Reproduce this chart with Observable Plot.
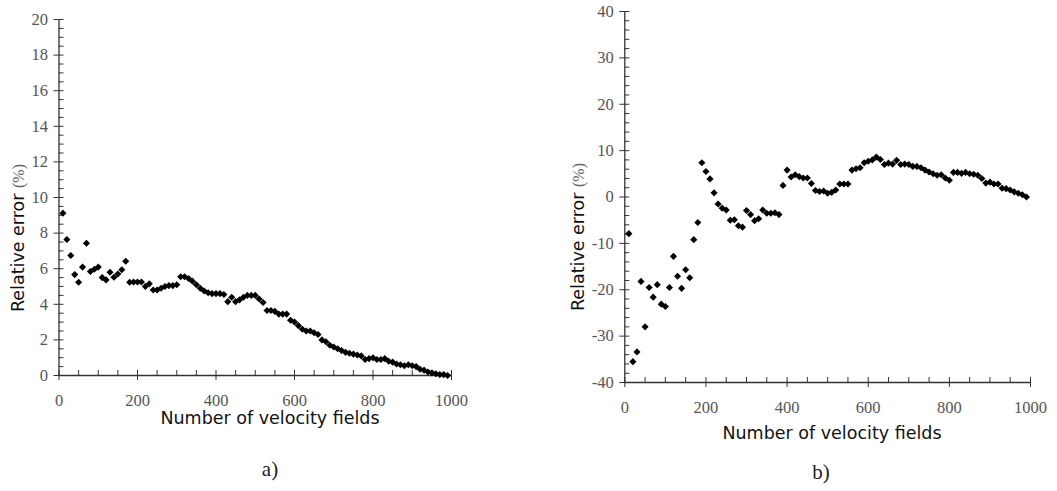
<!DOCTYPE html>
<html>
<head>
<meta charset="utf-8">
<script src="https://cdn.jsdelivr.net/npm/d3@7"></script>
<script src="https://cdn.jsdelivr.net/npm/@observablehq/plot@0.6"></script>
<style>
  html, body { margin: 0; padding: 0; background: #fff; }
  #root { position: relative; width: 1057px; height: 491px; overflow: hidden; background: #fff; }
  .panel { position: absolute; top: 0; }
  .lbl { position: absolute; white-space: nowrap; transform: translate(-50%, -50%); }
  .ytitle { transform: translate(-50%, -50%) rotate(-90deg); font-family: "DejaVu Sans", Verdana, sans-serif; font-size: 17.5px; color: #111; }
  .ytitle .pct { font-family: "Liberation Serif", "DejaVu Serif", serif; color: #666; font-size: 16px; }
  .xtitle { font-family: "DejaVu Sans", Verdana, sans-serif; font-size: 17.5px; color: #111; }
  .cap { font-family: "Liberation Serif", "DejaVu Serif", serif; font-size: 21px; color: #222; }
</style>
</head>
<body>
<div id="root"></div>
<script>
// Number of velocity fields (x values, shared by both panels)
const fields = [10,20,30,40,50,60,70,80,90,100,
  110,120,130,140,150,160,170,180,190,200,
  210,220,230,240,250,260,270,280,290,300,
  310,320,330,340,350,360,370,380,390,400,
  410,420,430,440,450,460,470,480,490,500,
  510,520,530,540,550,560,570,580,590,600,
  610,620,630,640,650,660,670,680,690,700,
  710,720,730,740,750,760,770,780,790,800,
  810,820,830,840,850,860,870,880,890,900,
  910,920,930,940,950,960,970,980,990];

// Panel a) relative error (%)
const errorA = [9.12,7.64,6.74,5.67,5.24,6.09,7.43,5.84,5.97,6.09,
  5.5,5.37,5.8,5.52,5.7,5.94,6.42,5.24,5.25,5.25,
  5.25,5.0,5.15,4.8,4.8,4.9,5.0,5.05,5.05,5.1,
  5.55,5.55,5.45,5.3,5.1,4.9,4.75,4.65,4.6,4.6,
  4.6,4.55,4.15,4.4,4.15,4.25,4.4,4.5,4.5,4.5,
  4.3,4.1,3.65,3.65,3.6,3.45,3.45,3.45,3.1,3.0,
  2.8,2.6,2.5,2.5,2.4,2.3,2.0,1.9,1.7,1.6,
  1.5,1.4,1.3,1.25,1.2,1.15,1.1,0.9,0.95,1.0,
  0.9,0.9,0.95,0.8,0.75,0.65,0.6,0.55,0.6,0.55,
  0.5,0.35,0.3,0.2,0.15,0.1,0.05,0.05,0.0];

// Panel b) relative error (%)
const errorB = [-7.9,-35.5,-33.4,-18.2,-28.0,-19.5,-21.6,-18.9,-23.1,-23.6,
  -19.5,-12.8,-17.1,-19.7,-15.7,-17.4,-9.2,-5.5,7.4,5.5,
  3.9,0.9,-1.5,-2.4,-2.8,-5.0,-4.9,-6.2,-6.5,-2.9,
  -3.8,-5.1,-4.7,-2.8,-3.5,-3.5,-3.4,-3.8,2.5,5.8,
  4.3,4.8,4.4,4.1,4.1,2.9,1.4,1.2,1.3,0.8,
  1.0,1.5,2.8,2.8,2.8,5.8,6.1,6.3,7.4,7.7,
  8.0,8.6,8.1,7.0,7.3,7.1,7.9,7.0,7.1,7.0,
  6.6,6.6,6.3,5.8,5.4,5.0,4.7,4.8,4.1,3.6,
  5.3,5.3,5.1,5.3,5.0,4.9,4.7,4.0,3.0,3.2,
  2.8,2.8,1.9,1.8,1.5,1.1,0.8,0.5,0.0];

// Tick values
const xMajor = [0,200,400,600,800,1000];
const xMinor = [0,50,100,150,200,250,300,350,400,450,500,550,600,650,700,750,800,850,900,950,1000];
const yMajorA = [0,2,4,6,8,10,12,14,16,18,20];
const yMinorA = [0,0.5,1,1.5,2,2.5,3,3.5,4,4.5,5,5.5,6,6.5,7,7.5,8,8.5,9,9.5,10,10.5,11,11.5,12,12.5,13,13.5,14,14.5,15,15.5,16,16.5,17,17.5,18,18.5,19,19.5,20];
const yMajorB = [-40,-30,-20,-10,0,10,20,30,40];
const yMinorB = [-40,-38,-36,-34,-32,-30,-28,-26,-24,-22,-20,-18,-16,-14,-12,-10,-8,-6,-4,-2,0,2,4,6,8,10,12,14,16,18,20,22,24,26,28,30,32,34,36,38,40];

const dataA = fields.map((f, i) => ({f, e: errorA[i]}));
const dataB = fields.map((f, i) => ({f, e: errorB[i]}));

const axisColor = "#333";
const serifStack = "Liberation Serif, DejaVu Serif, serif";

function panel({data, yDomain, yMajor, yMinor, width, height, mt, mb, ml, mr}) {
  return Plot.plot({
    width, height,
    marginTop: mt, marginBottom: mb, marginLeft: ml, marginRight: mr,
    style: {background: "#fff", overflow: "visible"},
    x: {domain: [0, 1000], label: null},
    y: {domain: yDomain, label: null},
    marks: [
      Plot.ruleX([0], {stroke: axisColor, strokeWidth: 1.3}),
      Plot.ruleY([yDomain[0]], {stroke: axisColor, strokeWidth: 1.3}),
      // tick marks: minor inward, major outward
      Plot.axisX({ticks: xMinor, tickSize: -5, text: null, stroke: axisColor, label: null}),
      Plot.axisX({ticks: xMajor, tickSize: 5, text: null, stroke: axisColor, label: null}),
      Plot.axisY({ticks: yMinor, tickSize: -5, text: null, stroke: axisColor, label: null}),
      Plot.axisY({ticks: yMajor, tickSize: 5, text: null, stroke: axisColor, label: null}),
      // tick labels in a serif face
      Plot.text(xMajor, {x: d => d, y: yDomain[0], text: d => String(d), dy: 25,
        fontFamily: serifStack, fontSize: 16.5, fill: "#555"}),
      Plot.text(yMajor, {x: 0, y: d => d, text: d => String(d), dx: -11, textAnchor: "end",
        fontFamily: serifStack, fontSize: 16.5, fill: "#555"}),
      Plot.dot(data, {x: "f", y: "e", symbol: "diamond2", r: 3.2, fill: "#000", stroke: "none"})
    ]
  });
}

const root = document.getElementById("root");

const a = panel({data: dataA, yDomain: [0, 20], yMajor: yMajorA, yMinor: yMinorA,
  width: 480, height: 420, mt: 19, mb: 45, ml: 58.5, mr: 29});
const divA = document.createElement("div");
divA.className = "panel"; divA.style.left = "0px";
divA.appendChild(a); root.appendChild(divA);

const b = panel({data: dataB, yDomain: [-40, 40], yMajor: yMajorB, yMinor: yMinorB,
  width: 497, height: 430, mt: 11, mb: 48, ml: 64.3, mr: 27});
const divB = document.createElement("div");
divB.className = "panel"; divB.style.left = "560px";
divB.appendChild(b); root.appendChild(divB);

function addLabel(html, cls, x, y) {
  const d = document.createElement("div");
  d.className = "lbl " + cls;
  d.style.left = x + "px"; d.style.top = y + "px";
  d.innerHTML = html;
  root.appendChild(d);
}
addLabel('Relative error <span class="pct">(%)</span>', "ytitle", 18, 238);
addLabel('Relative error <span class="pct">(%)</span>', "ytitle", 578, 237);
addLabel("Number of velocity fields", "xtitle", 270, 418);
addLabel("Number of velocity fields", "xtitle", 832, 433);
addLabel("a)", "cap", 270, 469);
addLabel("b)", "cap", 821, 472);
</script>
</body>
</html>
